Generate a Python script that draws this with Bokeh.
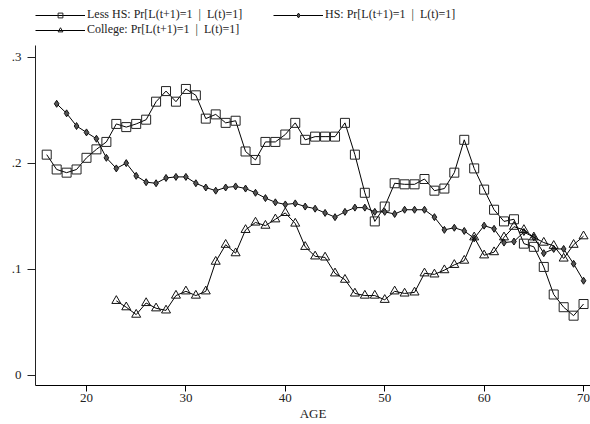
from bokeh.plotting import figure
from bokeh.models import Range1d, FixedTicker, Legend, LegendItem
from bokeh.embed import file_html
from bokeh.resources import INLINE

ages_lhs = list(range(16, 71))
less_hs = [0.208, 0.194, 0.191, 0.194, 0.205, 0.213, 0.220, 0.237, 0.234, 0.237,
           0.241, 0.258, 0.268, 0.258, 0.270, 0.264, 0.242, 0.246, 0.238, 0.240,
           0.211, 0.203, 0.220, 0.220, 0.227, 0.238, 0.222, 0.225, 0.225, 0.225,
           0.238, 0.208, 0.172, 0.145, 0.159, 0.181, 0.180, 0.180, 0.185, 0.174,
           0.176, 0.191, 0.222, 0.195, 0.175, 0.156, 0.145, 0.147, 0.124, 0.121,
           0.102, 0.076, 0.064, 0.056, 0.067]

ages_hs = list(range(17, 71))
hs = [0.256, 0.247, 0.235, 0.229, 0.223, 0.205, 0.195, 0.200, 0.188, 0.182,
      0.181, 0.186, 0.187, 0.187, 0.181, 0.177, 0.174, 0.177, 0.178, 0.176,
      0.172, 0.167, 0.163, 0.161, 0.162, 0.159, 0.157, 0.153, 0.149, 0.154,
      0.158, 0.158, 0.154, 0.154, 0.152, 0.156, 0.156, 0.156, 0.149, 0.137,
      0.139, 0.136, 0.129, 0.141, 0.138, 0.125, 0.126, 0.135, 0.130, 0.115,
      0.119, 0.119, 0.105, 0.089]

ages_col = list(range(23, 71))
college = [0.070, 0.064, 0.057, 0.068, 0.063, 0.061, 0.075, 0.079, 0.075, 0.079,
           0.107, 0.123, 0.115, 0.137, 0.144, 0.141, 0.147, 0.153, 0.143, 0.121,
           0.112, 0.111, 0.096, 0.090, 0.077, 0.075, 0.075, 0.071, 0.079, 0.077,
           0.078, 0.096, 0.095, 0.099, 0.104, 0.108, 0.130, 0.113, 0.116, 0.130,
           0.140, 0.137, 0.130, 0.125, 0.122, 0.110, 0.123, 0.131]

x_ticks = [20, 30, 40, 50, 60, 70]
y_ticks = [0, 0.1, 0.2, 0.3]
y_labels = {0: "0", 0.1: ".1", 0.2: ".2", 0.3: ".3"}
labels = ["Less HS: Pr[L(t+1)=1  |  L(t)=1]",
          "HS: Pr[L(t+1)=1  |  L(t)=1]",
          "College: Pr[L(t+1)=1  |  L(t)=1]"]

FONT = "Liberation Serif"

# frame spans the full top of the canvas so the legend can sit inside it;
# the y axis line is limited with bounds to the data region
p = figure(width=590, height=424, output_backend="svg", toolbar_location=None,
           x_range=Range1d(14.87, 70.7), y_range=Range1d(-0.0099, 0.3535),
           min_border_left=35, min_border_right=0, min_border_top=0,
           min_border_bottom=39)
p.outline_line_color = None
p.xgrid.visible = False
p.ygrid.visible = False
p.background_fill_color = "white"
p.border_fill_color = "white"

l1 = p.line(ages_lhs, less_hs, line_color="black", line_width=1)
m1 = p.scatter(ages_lhs, less_hs, marker="square", size=9, fill_color="white",
               fill_alpha=0, line_color="#222", line_width=1)
l2 = p.line(ages_hs, hs, line_color="black", line_width=1)
m2 = p.scatter(ages_hs, hs, marker="diamond", size=7, fill_color="#555",
               line_color="#111", line_width=1)
l3 = p.line(ages_col, college, line_color="black", line_width=1)
m3 = p.scatter(ages_col, college, marker="triangle", size=9, fill_color="white",
               fill_alpha=0, line_color="#111", line_width=1)

# axes
xa = p.xaxis[0]
xa.ticker = FixedTicker(ticks=x_ticks)
xa.minor_tick_line_color = None
xa.major_tick_out = 6
xa.major_tick_in = 0
xa.axis_line_color = "black"
xa.major_tick_line_color = "black"
xa.major_label_text_font = FONT
xa.major_label_text_font_size = "13px"
xa.major_label_text_color = "#222"
xa.major_label_standoff = 2
xa.axis_label = "AGE"
xa.axis_label_text_font = FONT
xa.axis_label_text_font_style = "normal"
xa.axis_label_text_font_size = "13px"
xa.axis_label_text_color = "#222"
xa.axis_label_standoff = 1

ya = p.yaxis[0]
ya.bounds = (-0.0099, 0.311)
ya.ticker = FixedTicker(ticks=y_ticks)
ya.major_label_overrides = y_labels
ya.minor_tick_line_color = None
ya.major_tick_out = 8
ya.major_tick_in = 0
ya.axis_line_color = "#222"
ya.major_tick_line_color = "#222"
ya.major_label_text_font = FONT
ya.major_label_text_font_size = "13px"
ya.major_label_text_color = "#222"
ya.major_label_standoff = 6

legend = Legend(items=[LegendItem(label=labels[0], renderers=[l1, m1]),
                       LegendItem(label=labels[1], renderers=[l2, m2]),
                       LegendItem(label=labels[2], renderers=[l3, m3])],
                ncols=2, orientation="horizontal", location=(0, 348))
legend.margin = 0
legend.padding = 0
legend.spacing = 0
legend.glyph_width = 50
legend.glyph_height = 12
legend.label_height = 12
legend.label_width = 186
legend.label_standoff = 2
legend.label_text_font = FONT
legend.label_text_font_size = "12px"
legend.label_text_color = "#222"
legend.border_line_color = None
legend.background_fill_alpha = 0
p.add_layout(legend, "center")

open("out.html", "w").write(file_html(p, INLINE))
